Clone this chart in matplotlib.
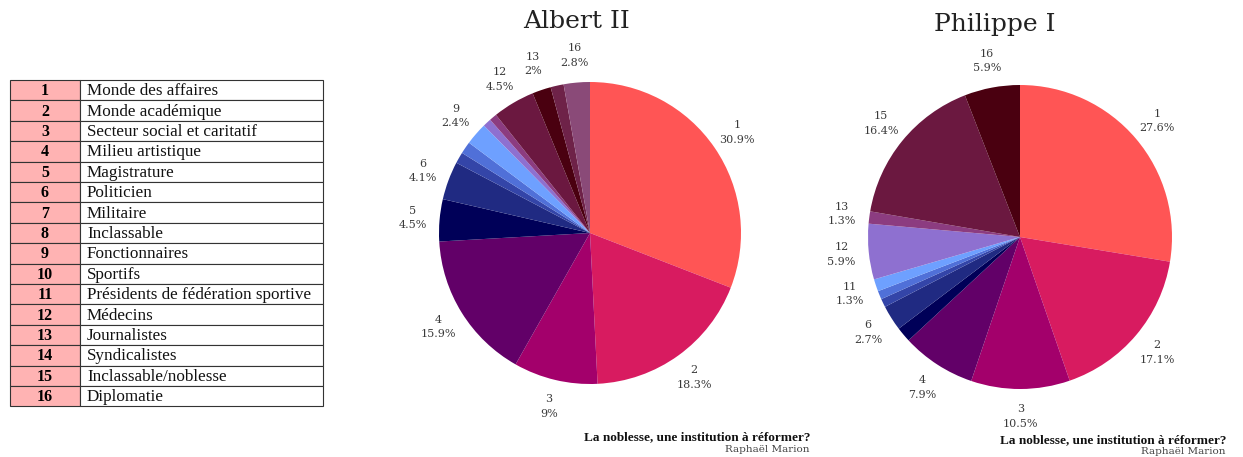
import matplotlib.pyplot as plt
from matplotlib.patches import Rectangle
import numpy as np

# legend table
codes = [str(i) for i in range(1, 17)]
categories = ["Monde des affaires", "Monde académique", "Secteur social et caritatif",
              "Milieu artistique", "Magistrature", "Politicien", "Militaire", "Inclassable",
              "Fonctionnaires", "Sportifs", "Présidents de fédération sportive", "Médecins",
              "Journalistes", "Syndicalistes", "Inclassable/noblesse", "Diplomatie"]

# share per category (%), 0 = absent
albert = [30.9, 18.3, 9.0, 15.9, 4.5, 4.1, 1.2, 1.3, 2.4, 0.9, 0.8, 4.5, 2.0, 1.4, 0.0, 2.8]
philippe = [27.6, 17.1, 10.5, 7.9, 1.6, 2.7, 0.9, 0.9, 0.0, 0.0, 1.3, 5.9, 1.3, 0.0, 16.4, 5.9]

# which slices get a label
albert_lab = ["1", "2", "3", "4", "5", "6", "9", "12", "13", "16"]
philippe_lab = ["1", "2", "3", "4", "6", "11", "12", "13", "15", "16"]

# colours are handed out in slice order
palette = ["#ff5555", "#d81b60", "#a3006b", "#620068", "#000058", "#202a82", "#3445a8",
           "#5070d8", "#6ea0ff", "#8e70d0", "#8c3c80", "#6b1840", "#4a0010", "#6e2248",
           "#8a4a78"]

W, H = 1243, 457
fig = plt.figure(figsize=(W / 100, H / 100), dpi=100)
bg = fig.add_axes([0, 0, 1, 1])
bg.set_xlim(0, W)
bg.set_ylim(H, 0)
bg.axis('off')

# table on the left
x0, x1, x2 = 10, 80, 323
top, rh = 80, 20.4
for i, (c, name) in enumerate(zip(codes, categories)):
    y = top + i * rh
    bg.add_patch(Rectangle((x0, y), x1 - x0, rh, fc="#ffb3b3", ec="#333333", lw=0.8))
    bg.add_patch(Rectangle((x1, y), x2 - x1, rh, fc="white", ec="#333333", lw=0.8))
    bg.text((x0 + x1) / 2, y + rh / 2 + 1, c, ha='center', va='center',
            fontsize=11.5, fontweight='bold', family='Liberation Serif')
    bg.text(x1 + 7, y + rh / 2 + 1, name, ha='left', va='center',
            fontsize=12.3, family='Liberation Serif', color="#111111")


def draw_pie(values, shown, cx, cy, r, title, tx, ty):
    pad = 1.6
    ax = fig.add_axes([(cx - pad * r) / W, (H - cy - pad * r) / H, 2 * pad * r / W, 2 * pad * r / H])
    keep = [i for i, v in enumerate(values) if v > 0]
    vals = [values[i] for i in keep]
    wedges, _ = ax.pie(vals, colors=palette[:len(vals)], startangle=90, counterclock=False,
                       wedgeprops=dict(linewidth=0))
    for w, i in zip(wedges, keep):
        if codes[i] not in shown:
            continue
        ang = np.deg2rad((w.theta1 + w.theta2) / 2)
        ax.text(1.18 * np.cos(ang), 1.18 * np.sin(ang),
                "{}\n{:g}%".format(codes[i], values[i]), ha='center', va='center',
                fontsize=8, color="#3a3a3a", family='DejaVu Serif', linespacing=1.55)
    ax.set_xlim(-pad, pad)
    ax.set_ylim(-pad, pad)
    ax.set_aspect('equal')
    ax.axis('off')
    bg.text(tx, ty, title, ha='center', va='center', fontsize=18,
            family='DejaVu Serif', color="#222222")


draw_pie(albert, albert_lab, 590, 233, 151, "Albert II", 577, 22)
draw_pie(philippe, philippe_lab, 1020, 237, 152, "Philippe I", 995, 25)

for xr, yb in [(810, 437), (1226, 440)]:
    bg.text(xr, yb, "La noblesse, une institution à réformer?", ha='right', va='center',
            fontsize=9.5, fontweight='bold', family='Liberation Serif', color="#111111")
    bg.text(xr, yb + 12, "Raphaël Marion", ha='right', va='center',
            fontsize=7.5, family='DejaVu Serif', color="#444444")

fig.savefig("out.png", dpi=100)
